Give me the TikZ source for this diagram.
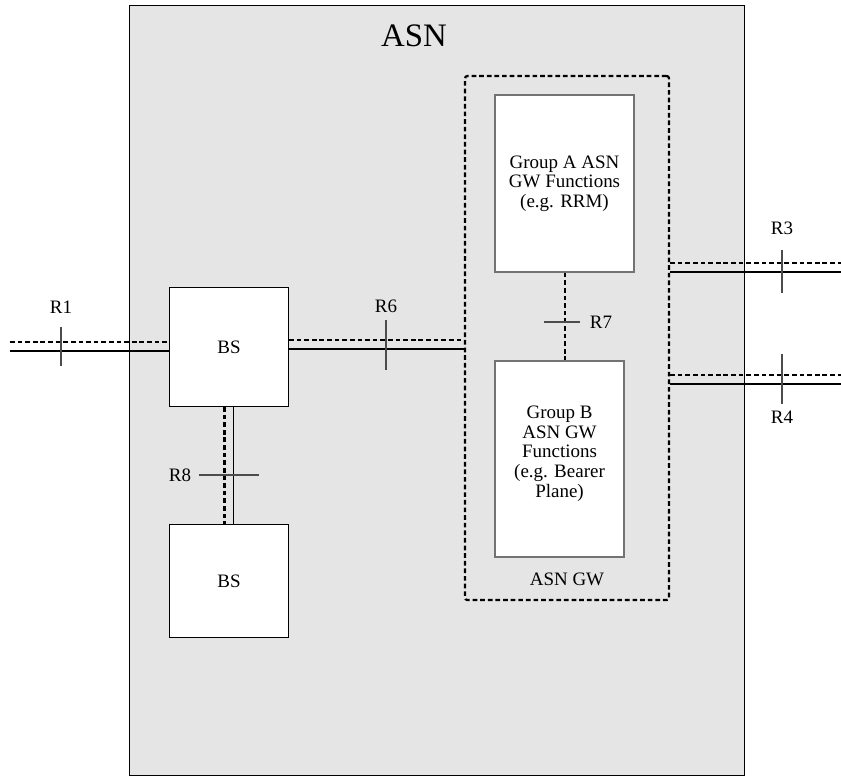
\documentclass[tikz,border=0pt]{standalone}
\usepackage{fontspec}
\setmainfont{Liberation Serif}
\usetikzlibrary{calc}

\begin{document}
\begin{tikzpicture}[
    x=0.03cm, y=-0.03cm,
    asn/.style={rectangle, draw=black, line width=0.8pt, fill=black!10},
    gwbox/.style={rectangle, rounded corners=2pt, draw=black, line width=1.9pt,
                  dash pattern=on 4pt off 2.5pt},
    bsbox/.style={rectangle, draw=black, line width=0.9pt, fill=white,
                  minimum width=119*0.03cm, minimum height=119*0.03cm, font=\fontsize{16.2}{16.8}\selectfont},
    grpbox/.style={rectangle, draw=black!55, line width=1.2pt, fill=white,
                   align=center, font=\fontsize{16.2}{16.8}\selectfont},
    dline/.style={line width=1.9pt, dash pattern=on 4pt off 2.5pt},
    sline/.style={line width=1.6pt},
    tick/.style={draw=black!70, line width=1.1pt},
    lbl/.style={font=\fontsize{16.2}{16.8}\selectfont}
]
\useasboundingbox (0,0) rectangle (841,776);
% ASN area
\node[asn, minimum width=615*0.03cm, minimum height=770*0.03cm] (asn) at (436.5,390) {};
\node[font=\fontsize{28}{32}\selectfont] (asnt) at (414,36) {ASN};
\node[gwbox, minimum width=204*0.03cm, minimum height=524*0.03cm] (gw) at (567,338) {};
\node[grpbox, minimum width=139*0.03cm, minimum height=177*0.03cm] (ga) at (564.5,183.5)
    {Group A ASN\\GW Functions\\(e.g. RRM)};
\node[grpbox, minimum width=129*0.03cm, minimum height=196*0.03cm, text depth=0.45cm] (gb) at (559.5,459)
    {Group B\\ASN GW\\Functions\\(e.g. Bearer\\Plane)};
\node[lbl] (gwt) at (567,579) {ASN GW};
\node[bsbox] (bs1) at (229,347) {BS};
\node[bsbox, minimum height=113*0.03cm] (bs2) at (229,581) {BS};
% free ends
\coordinate (r1e) at (10,346.5);
\coordinate (r3e) at (841,267.5);
\coordinate (r4e) at (841,379.5);
% R1
\draw[dline] ([shift={(0,-4.5)}]r1e) -- ([shift={(0,-4.5)}]r1e -| bs1.west);
\draw[sline] ([shift={(0,4.5)}]r1e) -- ([shift={(0,4.5)}]r1e -| bs1.west);
\draw[tick] (61,327) -- (61,366);
\node[lbl] (r1) at (61,307) {R1};
% R6
\coordinate (r6s) at ($(bs1.east)+(0,-2.5)$);
\draw[dline] ([shift={(0,-4.5)}]r6s) -- ([shift={(0,-4.5)}]r6s -| gw.west);
\draw[sline] ([shift={(0,4.5)}]r6s) -- ([shift={(0,4.5)}]r6s -| gw.west);
\draw[tick] (386,320) -- (386,370);
\node[lbl] (r6) at (386,306) {R6};
% R3, R4
\draw[dline] ([shift={(0,-4.5)}]r3e -| gw.east) -- ([shift={(0,-4.5)}]r3e);
\draw[sline] ([shift={(0,4.5)}]r3e -| gw.east) -- ([shift={(0,4.5)}]r3e);
\draw[tick] (782,250) -- (782,293);
\node[lbl] (r3) at (782,228) {R3};
\draw[dline] ([shift={(0,-4.5)}]r4e -| gw.east) -- ([shift={(0,-4.5)}]r4e);
\draw[sline] ([shift={(0,4.5)}]r4e -| gw.east) -- ([shift={(0,4.5)}]r4e);
\draw[tick] (782,354) -- (782,404);
\node[lbl] (r4) at (782,417) {R4};
% R7
\draw[dline] (ga.south -| 565,0) -- (gb.north -| 565,0);
\draw[tick] (544,322) -- (580,322);
\node[lbl] (r7) at (601,322) {R7};
% R8
\draw[dline] ([shift={(-4.5,0)}]bs1.south) -- ([shift={(-4.5,0)}]bs2.north);
\draw[sline] ([shift={(4.5,0)}]bs1.south) -- ([shift={(4.5,0)}]bs2.north);
\draw[tick] (199,475) -- (259,475);
\node[lbl] (r8) at (180,475) {R8};
\end{tikzpicture}
\end{document}
